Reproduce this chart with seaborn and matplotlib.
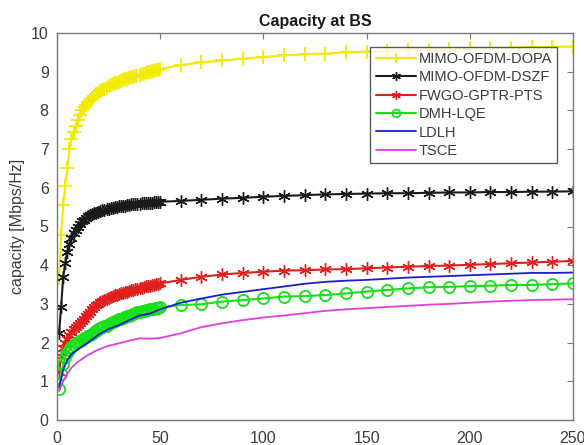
import numpy as np
import pandas as pd
import matplotlib
matplotlib.use("Agg")
import matplotlib.pyplot as plt
import seaborn as sns

# ---------------- data ----------------
x_dense = list(range(1, 51))
x_sparse = list(range(60, 251, 10))
x_mark = x_dense + x_sparse

dopa = [3.67, 4.78, 5.55, 6.05, 6.5, 7.0, 7.25, 7.45, 7.6, 7.75,
        7.88, 8.0, 8.08, 8.15, 8.22, 8.28, 8.33, 8.38, 8.42, 8.46,
        8.5, 8.53, 8.56, 8.59, 8.62, 8.65, 8.67, 8.7, 8.72, 8.74,
        8.76, 8.78, 8.8, 8.82, 8.84, 8.86, 8.87, 8.89, 8.9, 8.92,
        8.93, 8.95, 8.96, 8.98, 8.99, 9.01, 9.02, 9.04, 9.05, 9.07,
        9.17, 9.24, 9.29, 9.34, 9.38, 9.42, 9.45, 9.47, 9.5, 9.52,
        9.54, 9.56, 9.57, 9.59, 9.6, 9.61, 9.62, 9.63, 9.64, 9.65]

dszf = [2.24, 2.93, 3.7, 4.05, 4.35, 4.55, 4.7, 4.82, 4.92, 5.0,
        5.07, 5.13, 5.18, 5.22, 5.26, 5.29, 5.32, 5.34, 5.36, 5.38,
        5.4, 5.42, 5.43, 5.45, 5.46, 5.47, 5.49, 5.5, 5.51, 5.52,
        5.53, 5.54, 5.54, 5.55, 5.56, 5.57, 5.57, 5.58, 5.59, 5.59,
        5.6, 5.6, 5.61, 5.61, 5.62, 5.62, 5.63, 5.63, 5.64, 5.64,
        5.66, 5.69, 5.72, 5.74, 5.77, 5.79, 5.81, 5.83, 5.84, 5.85,
        5.86, 5.86, 5.87, 5.88, 5.88, 5.89, 5.89, 5.9, 5.9, 5.91]

pts = [1.25, 1.65, 1.85, 2.0, 2.1, 2.2, 2.27, 2.34, 2.4, 2.45,
       2.5, 2.56, 2.62, 2.68, 2.74, 2.8, 2.86, 2.92, 2.96, 3.0,
       3.04, 3.08, 3.1, 3.13, 3.16, 3.18, 3.2, 3.22, 3.24, 3.26,
       3.27, 3.29, 3.3, 3.32, 3.33, 3.35, 3.36, 3.38, 3.39, 3.41,
       3.42, 3.43, 3.45, 3.46, 3.47, 3.48, 3.49, 3.51, 3.52, 3.53,
       3.62, 3.7, 3.76, 3.8, 3.83, 3.86, 3.87, 3.89, 3.9, 3.92,
       3.94, 3.96, 3.98, 3.99, 4.01, 4.03, 4.05, 4.07, 4.09, 4.11]

lqe = [0.8, 1.2, 1.45, 1.62, 1.72, 1.8, 1.88, 1.93, 1.98, 2.02,
       2.05, 2.08, 2.11, 2.14, 2.17, 2.2, 2.23, 2.27, 2.3, 2.34,
       2.37, 2.4, 2.42, 2.44, 2.47, 2.5, 2.53, 2.56, 2.58, 2.6,
       2.62, 2.64, 2.66, 2.68, 2.7, 2.72, 2.74, 2.76, 2.78, 2.8,
       2.81, 2.82, 2.84, 2.85, 2.86, 2.87, 2.88, 2.89, 2.9, 2.91,
       2.97, 2.99, 3.06, 3.1, 3.14, 3.19, 3.2, 3.23, 3.27, 3.32,
       3.36, 3.4, 3.43, 3.44, 3.46, 3.47, 3.49, 3.49, 3.51, 3.53]

x_line = [1, 2, 3, 5, 7, 10, 15, 20, 25, 30, 35, 40, 45, 50,
          60, 70, 80, 90, 100, 110, 120, 130, 140, 150, 160, 170,
          180, 190, 200, 210, 220, 230, 240, 250]

ldlh = [0.85, 1.05, 1.3, 1.55, 1.7, 1.82, 2.0, 2.2, 2.35, 2.45, 2.58, 2.7, 2.75, 2.86,
        3.03, 3.14, 3.24, 3.31, 3.38, 3.45, 3.52, 3.57, 3.6, 3.62, 3.65, 3.68,
        3.7, 3.72, 3.74, 3.76, 3.78, 3.8, 3.8, 3.81]

tsce = [0.75, 0.88, 1.0, 1.2, 1.35, 1.5, 1.68, 1.82, 1.92, 1.98, 2.05, 2.11, 2.1, 2.12,
        2.24, 2.4, 2.5, 2.58, 2.65, 2.7, 2.76, 2.82, 2.86, 2.89, 2.92, 2.95,
        2.98, 3.0, 3.03, 3.06, 3.08, 3.1, 3.11, 3.12]

labels = ["MIMO-OFDM-DOPA", "MIMO-OFDM-DSZF", "FWGO-GPTR-PTS", "DMH-LQE", "LDLH", "TSCE"]
x_ticks = [0, 50, 100, 150, 200, 250]
y_ticks = [0, 1, 2, 3, 4, 5, 6, 7, 8, 9, 10]

# ---------------- plot ----------------
sns.set_style("white")
plt.rcParams['font.family'] = ['Liberation Sans', 'DejaVu Sans']

fig = plt.figure(figsize=(5.84, 4.45), dpi=100)
ax = fig.add_axes([57/584, 25/445, 516/584, 387/445])

asterisk = (6, 2, 0)
common = dict(ax=ax, estimator=None, sort=False)

c_y, c_k, c_r, c_g, c_b, c_m = "#f2ea00", "#1a1a1a", "#e0201e", "#18e018", "#1c1ccc", "#e040e0"

sns.lineplot(x=x_mark, y=dopa, color=c_y, marker="+", markersize=10, linewidth=1.5,
             markeredgewidth=1.3, markeredgecolor=c_y, label=labels[0], **common)
sns.lineplot(x=x_mark, y=dszf, color=c_k, marker=asterisk, markersize=9, linewidth=1.5,
             markeredgewidth=1.0, markeredgecolor=c_k, label=labels[1], **common)
sns.lineplot(x=x_mark, y=pts, color=c_r, marker=asterisk, markersize=9, linewidth=1.5,
             markeredgewidth=1.0, markeredgecolor=c_r, label=labels[2], **common)
sns.lineplot(x=x_mark, y=lqe, color=c_g, marker="o", markersize=8, linewidth=1.5,
             markerfacecolor="none", markeredgecolor=c_g,
             markeredgewidth=1.3, label=labels[3], **common)
sns.lineplot(x=x_line, y=ldlh, color=c_b, linewidth=1.3, label=labels[4], **common)
sns.lineplot(x=x_line, y=tsce, color=c_m, linewidth=1.3, label=labels[5], **common)

ax.set_xlim(0, 250)
ax.set_ylim(0, 10)
ax.set_xticks(x_ticks)
ax.set_yticks(y_ticks)
ax.set_xticklabels([str(t) for t in x_ticks])
ax.set_yticklabels([str(t) for t in y_ticks])

for s in ax.spines.values():
    s.set_visible(True)
    s.set_color("#7a7a7a")
    s.set_linewidth(1.0)
ax.tick_params(direction="in", top=True, right=True, length=4, width=0.8,
               color="#7a7a7a", labelsize=11.5, labelcolor="#3c3c3c")
ax.tick_params(axis="y", pad=6)
ax.tick_params(axis="x", pad=8)

ax.set_title("Capacity at BS", fontsize=11.5, fontweight="bold", color="#1a1a1a", pad=5)
ax.set_ylabel("capacity [Mbps/Hz]", fontsize=11.5, color="#3c3c3c", labelpad=4)
ax.set_xlabel("")

leg = ax.legend(loc="upper right", bbox_to_anchor=(0.969, 0.964), fontsize=10.5,
                frameon=True, fancybox=False, edgecolor="#333333",
                handlelength=2.75, handletextpad=0.2, labelspacing=0.3,
                borderpad=0.35, borderaxespad=0.0, markerscale=0.7)
leg.get_frame().set_linewidth(1.0)
for t in leg.get_texts():
    t.set_color("#3c3c3c")

fig.savefig("out.png", dpi=100)
